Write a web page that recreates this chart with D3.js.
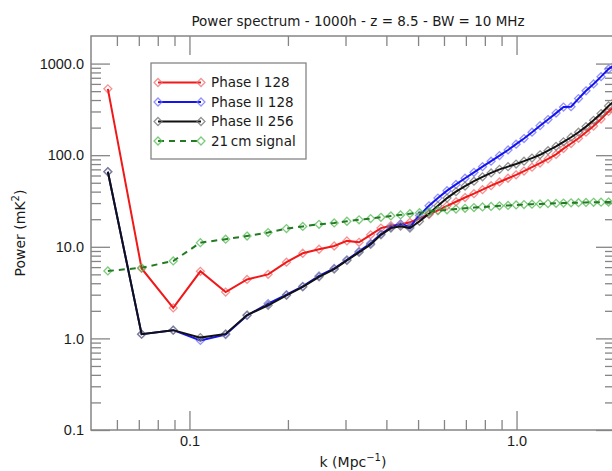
<!DOCTYPE html>
<html>
<head>
<meta charset="utf-8">
<script src="https://cdn.jsdelivr.net/npm/d3@7"></script>
<style>
  body { margin: 0; background: #fff; }
  #chart-container { width: 612px; height: 471px; overflow: hidden; }
</style>
</head>
<body>
<div id="chart-container"></div>
<script>
// k bins (Mpc^-1)
const kValues = [0.0563, 0.0714, 0.0892, 0.108, 0.129, 0.150, 0.174, 0.198, 0.222, 0.249,
    0.277, 0.303, 0.330, 0.358, 0.385, 0.413, 0.442, 0.472, 0.505, 0.540,
    0.575, 0.613, 0.653, 0.696, 0.741, 0.787, 0.836, 0.887, 0.942, 0.997,
    1.054, 1.115, 1.180, 1.248, 1.321, 1.392, 1.468, 1.547, 1.631, 1.720,
    1.813, 1.911, 2.016];

// Power (mK^2)
const phaseI128 = [530, 5.8, 2.15, 5.4, 3.2, 4.4, 5.0, 6.8, 8.5, 9.4,
    10.2, 11.6, 11.2, 13.5, 16.0, 17.0, 17.5, 18.5, 20.5, 22.5,
    25, 28, 31, 34.5, 38, 42, 46.5, 51, 56, 61,
    67, 74, 82, 91, 102, 118, 134, 153, 178, 208,
    248, 300, 355];

const phaseII128 = [66, 1.11, 1.23, 0.95, 1.1, 1.78, 2.4, 3.0, 3.7, 4.8,
    5.8, 7.2, 8.9, 10.9, 13.8, 16.3, 17.8, 16.5, 22, 28,
    34, 41, 48, 56, 65, 75, 86, 99, 114, 132,
    152, 178, 210, 245, 288, 335, 338, 415, 505, 600,
    720, 870, 1000];

const phaseII256 = [66, 1.11, 1.23, 1.02, 1.12, 1.8, 2.3, 2.95, 3.65, 4.7,
    5.7, 7.1, 8.7, 10.6, 13.5, 16.0, 16.8, 16.0, 19, 23,
    28, 34, 40, 46, 52, 58, 64, 70, 75, 80,
    86, 93, 101, 112, 125, 140, 157, 178, 205, 240,
    285, 345, 405];

const signal21cm = [5.45, 5.9, 7.0, 11.1, 12.1, 13.1, 14.3, 15.8, 16.7, 17.6,
    18.2, 19.0, 19.7, 20.3, 21.0, 21.7, 22.3, 23.0, 23.6, 24.2,
    24.8, 25.3, 25.8, 26.3, 26.8, 27.2, 27.6, 28.0, 28.3, 28.6,
    28.9, 29.2, 29.4, 29.6, 29.8, 30.0, 30.2, 30.3, 30.5, 30.6,
    30.7, 30.8, 30.9];

const seriesNames = ["Phase I 128", "Phase II 128", "Phase II 256", "21\u2009cm signal"];
const xMajorTicks = [0.1, 1.0];
const yMajorTicks = [0.1, 1, 10, 100, 1000];

const series = [
    { name: seriesNames[0], values: phaseI128, line: "#f01818", marker: "rgba(240,110,110,0.75)", dash: null },
    { name: seriesNames[1], values: phaseII128, line: "#1414f0", marker: "rgba(110,110,250,0.75)", dash: null },
    { name: seriesNames[2], values: phaseII256, line: "#111111", marker: "rgba(120,120,120,0.8)", dash: null },
    { name: seriesNames[3], values: signal21cm, line: "#237a23", marker: "rgba(90,190,90,0.8)", dash: "6,5" }
];

const width = 612;
const height = 471;
const margin = { top: 36, right: -3, bottom: 41, left: 91 };
const x0 = margin.left, x1 = width - margin.right;
const y0 = height - margin.bottom, y1 = margin.top;

const svg = d3.select("#chart-container")
    .append("svg")
    .attr("width", width)
    .attr("height", height)
    .style("font-family", "'DejaVu Sans', sans-serif");

const xScale = d3.scaleLog().domain([0.05, 2.0]).range([x0, x1]);
const yScale = d3.scaleLog().domain([0.1, 2000]).range([y0, y1]);

// minor ticks
const xMinor = [];
[0.01, 0.1, 1].forEach(dec => { for (let m = 2; m <= 9; m++) xMinor.push(dec * m); });
const xMinorTicks = xMinor.filter(v => v > 0.05 && v < 2.0);
const yMinorTicks = [];
[0.1, 1, 10, 100, 1000].forEach(dec => { for (let m = 2; m <= 9; m++) if (dec * m < 2000) yMinorTicks.push(dec * m); });

svg.append("defs").append("clipPath").attr("id", "plot-clip")
    .append("rect").attr("x", x0).attr("y", y1).attr("width", x1 - x0).attr("height", y0 - y1);

const axisColor = "#858585";
const fmt = d3.format(".1f");

function styleAxis(g) {
    g.select(".domain").remove();
    g.selectAll("line").attr("stroke", axisColor).attr("stroke-width", 1.3);
    g.selectAll("text").style("font-size", "14.5px").attr("fill", "#1a1a1a");
}

// bottom
svg.append("g").attr("transform", `translate(0,${y0})`)
    .call(d3.axisBottom(xScale).tickValues(xMajorTicks).tickFormat(fmt).tickSize(-19).tickPadding(6))
    .call(styleAxis);
svg.append("g").attr("transform", `translate(0,${y0})`)
    .call(d3.axisBottom(xScale).tickValues(xMinorTicks).tickFormat("").tickSize(-10))
    .call(styleAxis);
// top
svg.append("g").attr("transform", `translate(0,${y1})`)
    .call(d3.axisTop(xScale).tickValues(xMajorTicks).tickFormat("").tickSize(-19))
    .call(styleAxis);
svg.append("g").attr("transform", `translate(0,${y1})`)
    .call(d3.axisTop(xScale).tickValues(xMinorTicks).tickFormat("").tickSize(-10))
    .call(styleAxis);
// left
svg.append("g").attr("transform", `translate(${x0},0)`)
    .call(d3.axisLeft(yScale).tickValues(yMajorTicks).tickFormat(fmt).tickSize(-19).tickPadding(7))
    .call(styleAxis);
svg.append("g").attr("transform", `translate(${x0},0)`)
    .call(d3.axisLeft(yScale).tickValues(yMinorTicks).tickFormat("").tickSize(-10))
    .call(styleAxis);
// right
svg.append("g").attr("transform", `translate(${x1},0)`)
    .call(d3.axisRight(yScale).tickValues(yMajorTicks).tickFormat("").tickSize(-19))
    .call(styleAxis);
svg.append("g").attr("transform", `translate(${x1},0)`)
    .call(d3.axisRight(yScale).tickValues(yMinorTicks).tickFormat("").tickSize(-10))
    .call(styleAxis);

// frame
svg.append("rect")
    .attr("x", x0).attr("y", y1)
    .attr("width", x1 - x0).attr("height", y0 - y1)
    .attr("fill", "none").attr("stroke", axisColor).attr("stroke-width", 1.5);

// diamond marker
const diamond = d3.symbol().type(d3.symbolDiamond2).size(40);

const plot = svg.append("g").attr("clip-path", "url(#plot-clip)");
const line = d3.line().x(d => xScale(d[0])).y(d => yScale(d[1]));

series.forEach(s => {
    const pts = kValues.map((k, i) => [k, s.values[i]]);
    const g = plot.append("g");
    g.selectAll("path.mk")
        .data(pts)
        .enter()
        .append("path")
        .attr("class", "mk")
        .attr("d", diamond)
        .attr("transform", d => `translate(${xScale(d[0])},${yScale(d[1])})`)
        .attr("fill", "none")
        .attr("stroke", s.marker)
        .attr("stroke-width", 1.3);
    g.append("path")
        .datum(pts)
        .attr("d", line)
        .attr("fill", "none")
        .attr("stroke", s.line)
        .attr("stroke-width", 2)
        .attr("stroke-dasharray", s.dash);
});

// legend
const legend = svg.append("g");
legend.append("rect")
    .attr("x", 151).attr("y", 63).attr("width", 155).attr("height", 96)
    .attr("fill", "#fff").attr("stroke", axisColor).attr("stroke-width", 1.3);
series.forEach((s, i) => {
    const ly = 82.5 + i * 19.5;
    const row = legend.append("g").attr("transform", `translate(0,${ly})`);
    row.append("line")
        .attr("x1", 158).attr("x2", 201)
        .attr("stroke", s.line).attr("stroke-width", 2)
        .attr("stroke-dasharray", s.dash);
    [158, 201].forEach(px => {
        row.append("path").attr("d", diamond)
            .attr("transform", `translate(${px},0)`)
            .attr("fill", "none").attr("stroke", s.marker).attr("stroke-width", 1.3);
    });
    row.append("text")
        .attr("x", 211).attr("dy", "0.36em")
        .style("font-size", "13.5px")
        .attr("fill", "#1a1a1a")
        .text(s.name);
});

// title
svg.append("text")
    .attr("x", 358).attr("y", 26)
    .attr("text-anchor", "middle")
    .style("font-size", "13.5px")
    .attr("fill", "#1a1a1a")
    .text("Power spectrum - 1000h - z = 8.5 - BW = 10 MHz");

// x label
const xl = svg.append("text")
    .attr("x", (x0 + x1) / 2).attr("y", 467)
    .attr("text-anchor", "middle")
    .style("font-size", "14px")
    .attr("fill", "#1a1a1a");
xl.append("tspan").text("k (Mpc");
xl.append("tspan").attr("dy", -6).style("font-size", "10px").text("−1");
xl.append("tspan").attr("dy", 6).text(")");

// y label
const yl = svg.append("text")
    .attr("transform", `translate(25,${(y0 + y1) / 2}) rotate(-90)`)
    .attr("text-anchor", "middle")
    .style("font-size", "14px")
    .attr("fill", "#1a1a1a");
yl.append("tspan").text("Power (mK");
yl.append("tspan").attr("dy", -6).style("font-size", "10px").text("2");
yl.append("tspan").attr("dy", 6).text(")");
</script>
</body>
</html>
